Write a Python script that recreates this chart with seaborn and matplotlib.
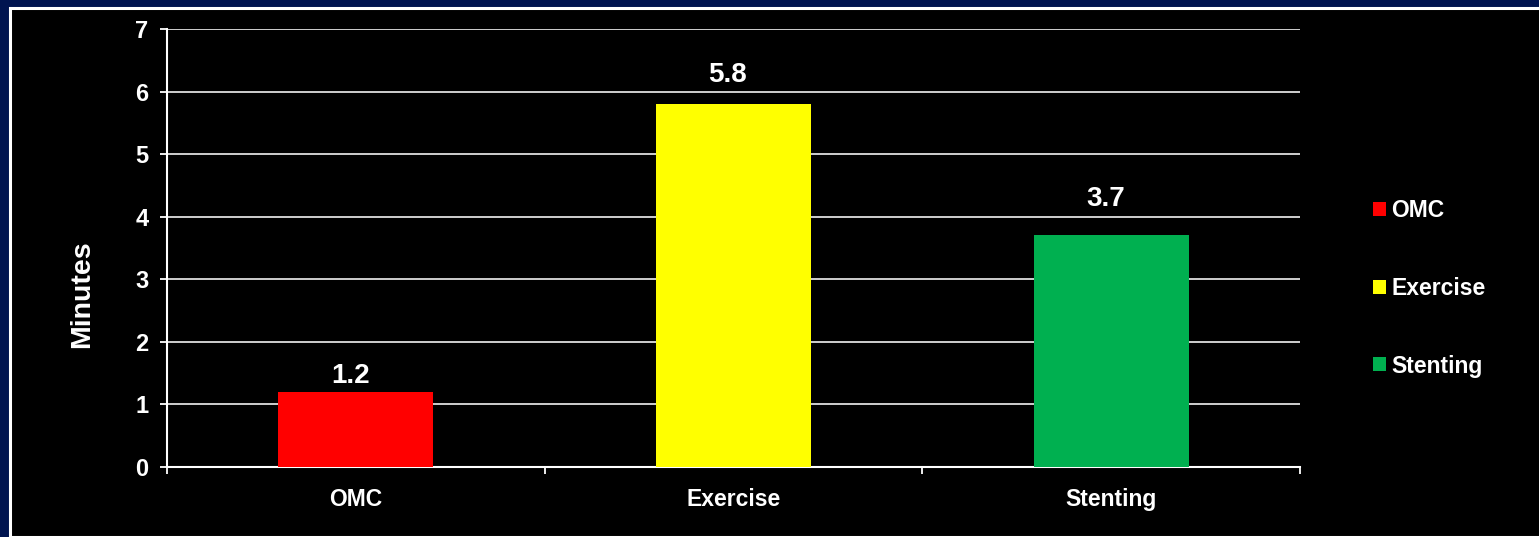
import matplotlib
matplotlib.use("Agg")
import matplotlib.pyplot as plt
import seaborn as sns
import pandas as pd
from matplotlib.patches import Rectangle
from matplotlib.ticker import FixedLocator

categories = ["OMC", "Exercise", "Stenting"]
minutes = [1.2, 5.8, 3.7]
colors = ["#FF0000", "#FFFF00", "#00B050"]
yticks = [0, 1, 2, 3, 4, 5, 6, 7]

sns.set_style("dark")
plt.rcParams["font.family"] = ["Liberation Sans", "DejaVu Sans"]
plt.rcParams["font.weight"] = "bold"

df = pd.DataFrame({"category": categories, "minutes": minutes})

fig = plt.figure(figsize=(15.39, 5.37), dpi=100)
fig.patch.set_facecolor("#001450")
# black panel with white frame
frame = Rectangle((9.5 / 1539, 0), 1.0, 1 - 7.5 / 537, transform=fig.transFigure,
                  facecolor="black", edgecolor="white", linewidth=2.2, zorder=-5)
fig.add_artist(frame)

ax = fig.add_axes([167 / 1539, 70 / 537, 1133 / 1539, 438 / 537])
ax.set_facecolor("black")

sns.barplot(data=df, x="category", y="minutes", hue="category", palette=colors,
            order=categories, hue_order=categories, width=0.41, dodge=False,
            legend=False, ax=ax, zorder=3, saturation=1, edgecolor="none", linewidth=0)

# value labels (Excel-style placement above each bar)
label_gap = [0.14, 0.35, 0.47]
for i, v in enumerate(minutes):
    ax.text(i - 0.015, v + label_gap[i], f"{v}", ha="center", va="baseline", color="white",
            fontsize=20, fontweight="bold")

ax.set_xlim(-0.5, 2.5)
ax.set_ylim(0, 7)
ax.set_yticks(yticks)
ax.set_yticklabels([str(t) for t in yticks])
ax.grid(axis="y", color="#cfcfcf", linewidth=1.4, zorder=0)
ax.grid(axis="x", visible=False)
ax.set_axisbelow(True)

for s in ["top", "right"]:
    ax.spines[s].set_visible(False)
for s in ["left", "bottom"]:
    ax.spines[s].set_visible(True)
    ax.spines[s].set_color("white")
    ax.spines[s].set_linewidth(1.5)

ax.xaxis.set_minor_locator(FixedLocator([-0.5, 0.5, 1.5, 2.5]))
ax.tick_params(axis="x", which="major", length=0, colors="white", labelsize=16.5, pad=15)
ax.tick_params(axis="x", which="minor", length=5, width=1.3, color="white", direction="out", bottom=True)
ax.tick_params(axis="y", length=5, width=1.3, color="white", labelcolor="white", labelsize=17, pad=8.5, left=True)
for lab in ax.get_xticklabels() + ax.get_yticklabels():
    lab.set_fontweight("bold")

ax.set_xlabel("")
ax.set_ylabel("Minutes", color="white", fontsize=20.5, fontweight="bold")
ax.yaxis.set_label_coords((95 - 167) / 1133, (467 - 294) / 438)

handles = [Rectangle((0, 0), 1, 1, facecolor=c, edgecolor="none") for c in colors]
leg = fig.legend(handles, categories, loc="upper left", bbox_to_anchor=(1373 / 1539, 1 - 199 / 537),
                 frameon=False, fontsize=16.5, labelspacing=2.39, handlelength=0.57,
                 handleheight=0.57, handletextpad=0.22, borderaxespad=0, borderpad=0)
for t in leg.get_texts():
    t.set_color("white")
    t.set_fontweight("bold")

fig.savefig("out.png", dpi=100, facecolor=fig.get_facecolor())
